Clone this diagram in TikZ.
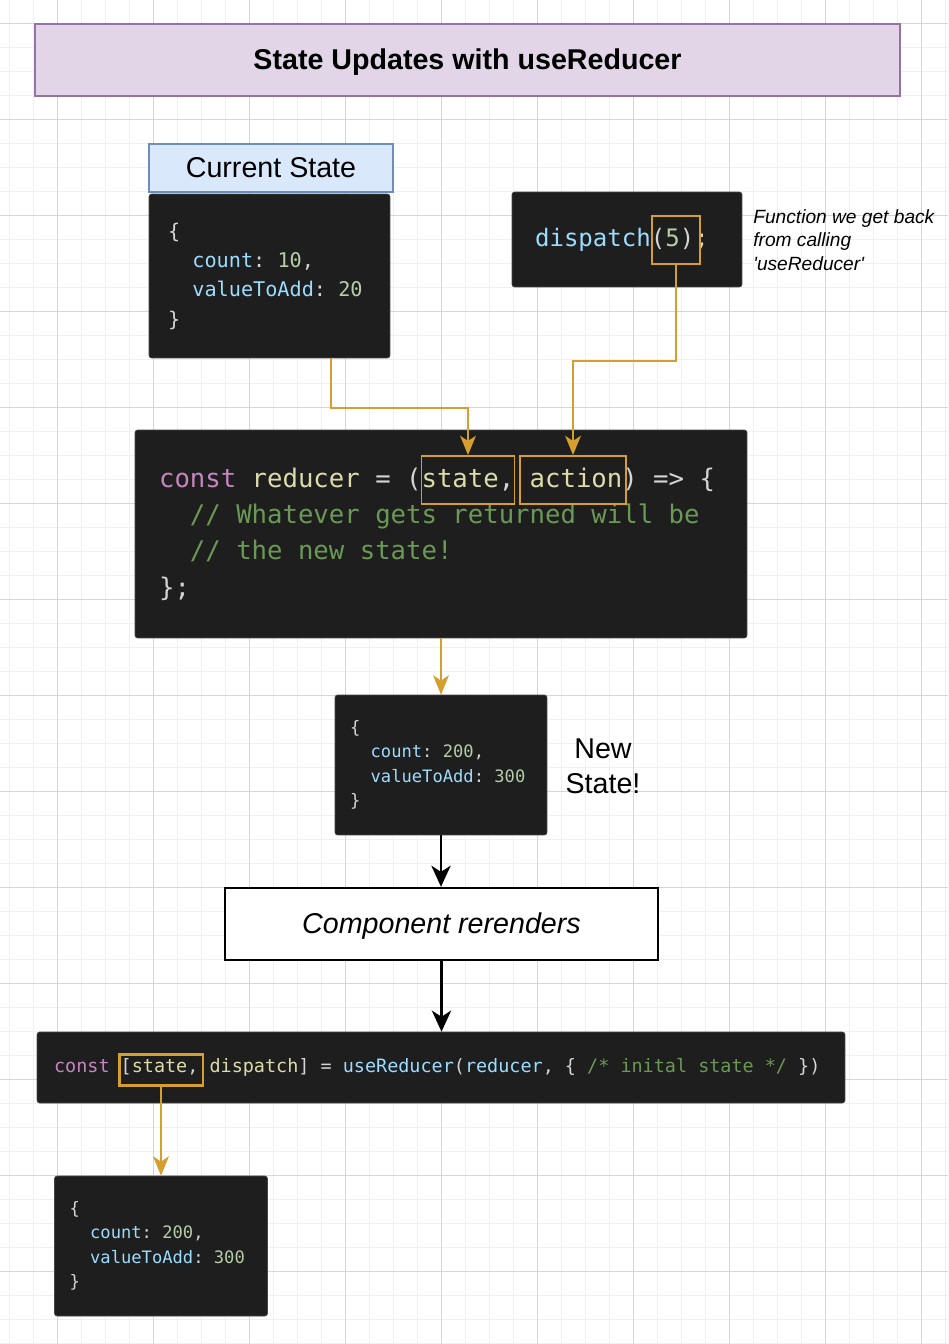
\documentclass[tikz,border=0pt]{standalone}
\usepackage{fontspec}
\setmainfont{Liberation Sans}
\setmonofont{DejaVu Sans Mono}
\usetikzlibrary{arrows.meta}

\definecolor{codebg}{RGB}{30,30,30}
\definecolor{codeedge}{RGB}{70,70,70}
\definecolor{codeplain}{RGB}{212,212,212}
\definecolor{codekw}{RGB}{197,134,192}
\definecolor{codeprop}{RGB}{156,220,254}
\definecolor{codenum}{RGB}{181,206,168}
\definecolor{codecom}{RGB}{106,153,85}
\definecolor{codevar}{RGB}{220,220,170}
\definecolor{gold}{RGB}{214,158,46}
\definecolor{titlefill}{RGB}{225,213,231}
\definecolor{titleedge}{RGB}{150,115,166}
\definecolor{headfill}{RGB}{218,232,252}
\definecolor{headedge}{RGB}{108,142,191}
\definecolor{gridlight}{RGB}{240,240,240}
\definecolor{griddark}{RGB}{214,214,214}

\newcommand{\ckw}[1]{\textcolor{codekw}{#1}}
\newcommand{\cprop}[1]{\textcolor{codeprop}{#1}}
\newcommand{\cnum}[1]{\textcolor{codenum}{#1}}
\newcommand{\ccom}[1]{\textcolor{codecom}{#1}}
\newcommand{\cvar}[1]{\textcolor{codevar}{#1}}
\newcommand{\codeind}{\phantom{xx}}

\begin{document}
\begin{tikzpicture}[x=0.02cm,y=-0.02cm,
  codebox/.style={fill=codebg,draw=codeedge,line width=0.4pt,rounded corners=1.5pt,text=codeplain,align=left,inner ysep=0pt,
    execute at begin node=\spaceskip0.602em\xspaceskip0.602em\relax},
  hlbox/.style={draw=gold,line width=1.1pt,inner sep=0pt},
  goldarrow/.style={draw=gold,line width=1.1pt,-{Stealth[length=11pt,width=9pt,inset=3pt]}},
  blackarrow/.style={draw=black,line width=1.3pt,-{Stealth[length=12pt,width=11pt,inset=3.5pt]}},
  gridminor/.style={draw=gridlight,line width=0.5pt},
  gridmajor/.style={draw=griddark,line width=0.5pt}]
	\useasboundingbox (0,0) rectangle (948,1344);
	% background grid
	\fill [white] (0,0) rectangle (948,1344);
	\foreach \gx in {0,...,39} \draw [gridminor] ({9+24*\gx},0) -- ({9+24*\gx},1344);
	\foreach \gy in {0,...,56} \draw [gridminor] (0,{24*\gy-1}) -- (948,{24*\gy-1});
	\foreach \gx in {0,...,9} \draw [gridmajor] ({57+96*\gx},0) -- ({57+96*\gx},1344);
	\foreach \gy in {0,...,13} \draw [gridmajor] (0,{23+96*\gy}) -- (948,{23+96*\gy});

	\node [draw=titleedge,fill=titlefill,line width=1.2pt,minimum width=17.3cm,minimum height=1.44cm,text depth=0.1em,font=\bfseries\fontsize{16.3}{19.5}\selectfont] (title) at (467.5,60) {State Updates with useReducer};

	% current state
	\node [draw=headedge,fill=headfill,line width=1.2pt,minimum width=4.88cm,minimum height=0.96cm,font=\fontsize{16.3}{19.5}\selectfont] (head) at (271,168) {Current State};
	\node [codebox,text width=4.06cm,inner xsep=0.38cm,minimum height=3.28cm,font=\ttfamily\fontsize{11.5}{16.7}\selectfont] (cscode) at (269.5,276) {\{\\\codeind\cprop{count}: \cnum{10},\\\codeind\cprop{valueToAdd}: \cnum{20}\\\}};

	% dispatch
	\node [codebox,text width=3.68cm,inner xsep=0.46cm,minimum height=1.9cm,font=\ttfamily\fontsize{13.7}{16}\selectfont] (disp) at (627,239.5) {\cprop{dispatch}(\cnum{5});};
	\node [anchor=west,align=left,inner sep=0pt,font=\itshape\fontsize{10.9}{13.3}\selectfont] (note) at (753,240) {Function we get back\\from calling\\\textquotesingle useReducer\textquotesingle};

	% reducer
	\node [codebox,text width=11.28cm,inner xsep=0.48cm,minimum height=4.16cm,font=\ttfamily\fontsize{14.6}{20.7}\selectfont] (reducer) at (441,534) {\ckw{const} \cvar{reducer} = (\cvar{state}, \cvar{action}) => \{\\\codeind\ccom{// Whatever gets returned will be}\\\codeind\ccom{// the new state!}\\\};};
	\node [hlbox,minimum width=1.86cm,minimum height=0.96cm] (hlstate) at (468,480) {};
	\node [hlbox,minimum width=2.12cm,minimum height=0.96cm] (hlaction) at (573,480) {};
	\node [hlbox,minimum width=0.96cm,minimum height=0.96cm] (hlfive) at (676,240) {};

	% new state
	\node [codebox,text width=3.64cm,inner xsep=0.3cm,minimum height=2.8cm,font=\ttfamily\fontsize{9.75}{13.9}\selectfont] (newstate) at (441,765) {\{\\\codeind\cprop{count}: \cnum{200},\\\codeind\cprop{valueToAdd}: \cnum{300}\\\}};
	\node [align=center,font=\fontsize{16.3}{19.8}\selectfont] (newlabel) at (603,766) {New\\State!};

	\node [draw=black,fill=white,line width=1.4pt,minimum width=8.66cm,minimum height=1.44cm,text depth=0.1em,font=\itshape\fontsize{16.3}{19.5}\selectfont] (render) at (441.5,924) {Component rerenders};

	% useReducer call
	\node [codebox,text width=15.48cm,inner xsep=0.34cm,minimum height=1.42cm,font=\ttfamily\fontsize{10.5}{14}\selectfont] (usered) at (441,1067.5) {\ckw{const} [\cvar{state}, \cvar{dispatch}] = \cprop{useReducer}(\cprop{reducer}, \{ \ccom{/* inital state */} \})};
	\node [hlbox,line width=1.7pt,minimum width=1.68cm,minimum height=0.62cm] (hlstatetwo) at (161,1069.5) {};

	\node [codebox,text width=3.66cm,inner xsep=0.3cm,minimum height=2.8cm,font=\ttfamily\fontsize{9.75}{13.9}\selectfont] (result) at (161,1246) {\{\\\codeind\cprop{count}: \cnum{200},\\\codeind\cprop{valueToAdd}: \cnum{300}\\\}};

	% connectors
	\draw [goldarrow] (cscode.south) ++(61.5,0) -- ++(0,50) -| (hlstate.north);
	\draw [goldarrow] (hlfive.south) -- ++(0,96) -| (hlaction.north);
	\draw [goldarrow] (reducer.south) -- (newstate.north);
	\draw [blackarrow] (newstate.south) -- (newstate.south |- render.north);
	\draw [blackarrow] (render.south) -- (render.south |- usered.north);
	\draw [goldarrow] (hlstatetwo.south) -- (result.north);
\end{tikzpicture}
\end{document}
